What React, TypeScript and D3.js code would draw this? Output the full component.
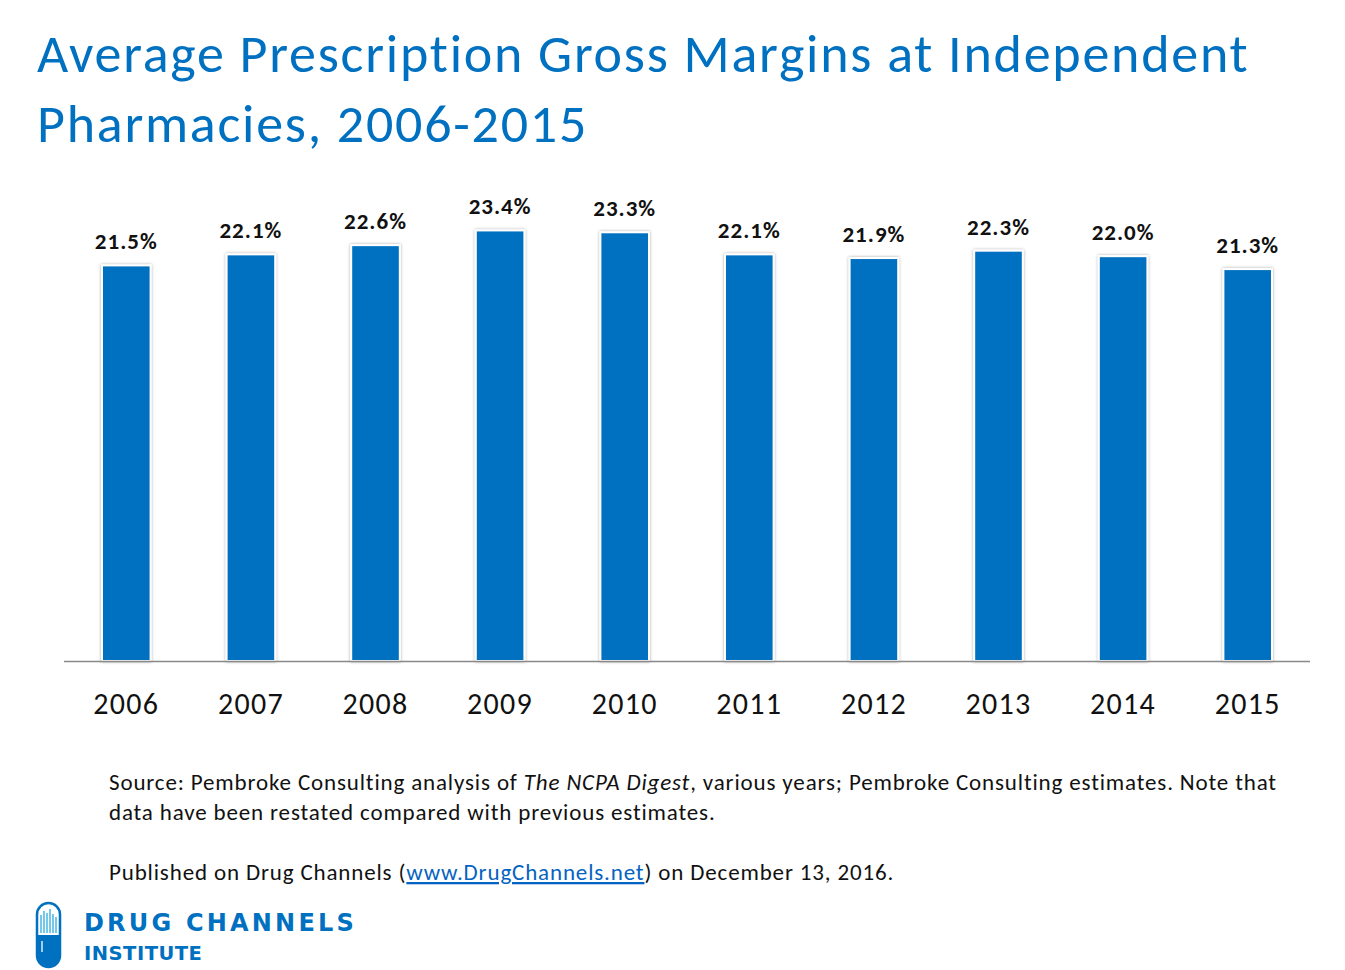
import React from "react";
import * as d3 from "d3";

const years = ["2006", "2007", "2008", "2009", "2010", "2011", "2012", "2013", "2014", "2015"];
const margins = [21.5, 22.1, 22.6, 23.4, 23.3, 22.1, 21.9, 22.3, 22.0, 21.3];
const titleLines = ["Average Prescription Gross Margins at Independent", "Pharmacies, 2006-2015"];

const W = 1345;
const H = 970;
const FONT = "Carlito, Calibri, Lato, sans-serif";
const BLUE = "#0070C0";

export default function App() {
  const x = d3.scaleBand<string>().domain(years).range([64, 1310]).paddingInner(0.61).paddingOuter(0.305);
  const y = d3.scaleLinear().domain([0, 25]).range([661, 661 - 25 * 18.4]);
  const fmt = (v: number) => d3.format(".1f")(v) + "%";

  return (
    <svg width={W} height={H} style={{ position: "absolute", left: 0, top: 0, background: "#fff" }} fontFamily={FONT}>
      <defs>
        <filter id="sh" x="-30%" y="-10%" width="160%" height="120%">
          <feDropShadow dx="0" dy="0" stdDeviation="1.6" floodColor="#000" floodOpacity="0.35" />
        </filter>
      </defs>
      <rect width={W} height={H} fill="#fff" />
      {titleLines.map((t, i) => (
        <text key={i} x={37} y={72 + i * 70} fill={BLUE} fontSize={54} letterSpacing={1.75}>{t}</text>
      ))}
      <g>
        {years.map((yr, i) => (
          <g key={yr}>
            <rect
              x={x(yr)!}
              y={y(margins[i])}
              width={x.bandwidth()}
              height={y(0) - y(margins[i])}
              fill={BLUE}
              stroke="#fff"
              strokeWidth={2}
              filter="url(#sh)"
            />
            <text
              x={x(yr)! + x.bandwidth() / 2}
              y={y(margins[i]) - 16}
              textAnchor="middle"
              fontWeight="bold"
              fontSize={23}
              letterSpacing={1}
              fill="#111"
            >
              {fmt(margins[i])}
            </text>
            <text x={x(yr)! + x.bandwidth() / 2} y={714} textAnchor="middle" fontSize={30} letterSpacing={1.3} fill="#111">
              {yr}
            </text>
          </g>
        ))}
        <line x1={64} x2={1310} y1={661.5} y2={661.5} stroke="#898989" strokeWidth={1.3} />
      </g>
      <g fontSize={23} letterSpacing={0.85} fill="#111">
        <text x={109} y={790}>
          Source: Pembroke Consulting analysis of <tspan fontStyle="italic">The NCPA Digest</tspan>, various years; Pembroke Consulting estimates. Note that
        </text>
        <text x={109} y={820}>data have been restated compared with previous estimates.</text>
        <text x={109} y={880}>
          Published on Drug Channels (<tspan fill="#0563C1" textDecoration="underline">www.DrugChannels.net</tspan>) on December 13, 2016.
        </text>
      </g>
      <g>
        <rect x={37} y={903} width={23} height={64} rx={11.5} fill="#fff" stroke={BLUE} strokeWidth={2.5} />
        <path d="M37,935 L60,935 L60,955.5 A11.5,11.5 0 0 1 37,955.5 Z" fill={BLUE} />
        {[41, 44, 47, 50, 53, 56].map((bx, i) => (
          <line key={bx} x1={bx} x2={bx} y1={[915, 911, 913, 909, 914, 917][i]} y2={933} stroke="#29ABE2" strokeWidth={1.3} />
        ))}
        <line x1={42} x2={42} y1={941} y2={952} stroke="#fff" strokeWidth={1.3} />
        <text x={84} y={931} fill={BLUE} fontSize={24} fontWeight="bold" letterSpacing={3.2} fontFamily="'DejaVu Sans', sans-serif">DRUG CHANNELS</text>
        <text x={84} y={960} fill={BLUE} fontSize={19.5} fontWeight="bold" letterSpacing={0.5} fontFamily="'DejaVu Sans', sans-serif">INSTITUTE</text>
      </g>
    </svg>
  );
}
